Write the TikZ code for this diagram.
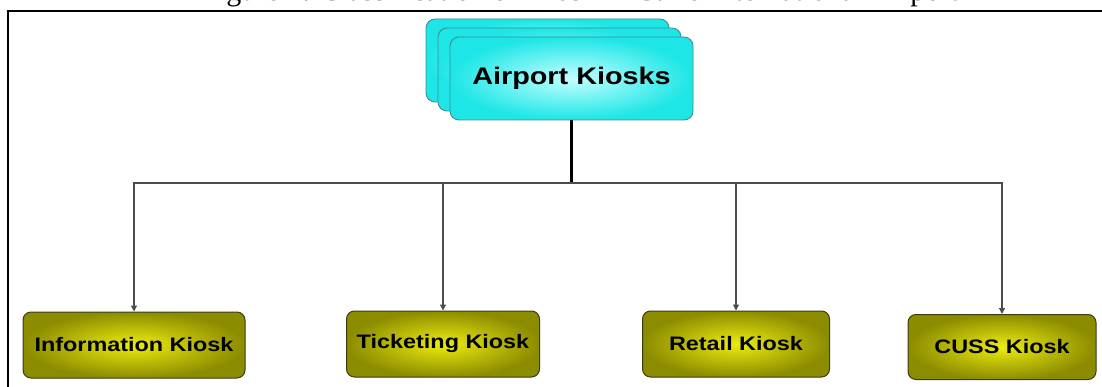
\documentclass[tikz,border=0pt]{standalone}
\usepackage{fontspec}
\setmainfont{Liberation Serif}
\newfontfamily\kioskfont{Liberation Sans}[FakeStretch=1.2]
\usetikzlibrary{arrows.meta}
\definecolor{kcyanin}{HTML}{C4FFFF}
\definecolor{kcyanout}{HTML}{1EE6E6}
\definecolor{kcyanline}{HTML}{3C8C96}
\definecolor{kolivein}{HTML}{ECEC10}
\definecolor{koliveout}{HTML}{8C8C00}
\definecolor{koliveline}{HTML}{3C3C14}

\begin{document}
\begin{tikzpicture}[x=1pt, y=-1pt,
    topbox/.style={draw=kcyanline, line width=0.9pt, rounded corners=9pt,
      inner color=kcyanin, outer color=kcyanout,
      minimum width=243pt, minimum height=83pt},
    kioskbox/.style={draw=koliveline, line width=1pt, rounded corners=8pt,
      inner color=kolivein, outer color=koliveout, minimum height=66pt,
      font=\kioskfont\bfseries\fontsize{19.5}{22}\selectfont},
    drop/.style={draw=black!70, line width=1.2pt,
      -{Triangle[width=6pt,length=6pt]}}]
  \useasboundingbox (0,0) rectangle (1102,387);
  % caption, cut off by the top of the picture
  \begin{scope}
    \clip (0,0) rectangle (1102,10);
    \node[anchor=base, inner sep=0pt, font=\fontsize{30}{34}\selectfont]
      (caption) at (580,0.5) {Figure 1: Classification of Kiosk in Cairo International Airport};
  \end{scope}
  \draw[line width=1.8pt] (8,387) -- (8,11) -- (1102,11);
  % stacked top boxes
  \node[topbox] (kioskback) at (547.5,60.5) {};
  \node[topbox] (kioskmid) at (559.5,69.5) {};
  \node[topbox, font=\kioskfont\bfseries\fontsize{24}{28}\selectfont]
    (kiosks) at (571.5,78.5) {Airport Kiosks};
  % kiosk types
  \node[kioskbox, minimum width=222pt] (info) at (134,345) {Information Kiosk};
  \node[kioskbox, minimum width=193pt] (ticket) at (443,344) {Ticketing Kiosk};
  \node[kioskbox, minimum width=187pt] (retail) at (736,344) {Retail Kiosk};
  \node[kioskbox, minimum width=188pt, minimum height=65pt] (cuss) at (1002,347) {CUSS Kiosk};
  % connectors
  \coordinate (bus) at (571.5,183);
  \draw[line width=2.4pt] (kiosks.south) -- (bus);
  \foreach \k in {info,ticket,retail,cuss}
    \draw[drop] (bus) -| (\k.north);
\end{tikzpicture}
\end{document}
